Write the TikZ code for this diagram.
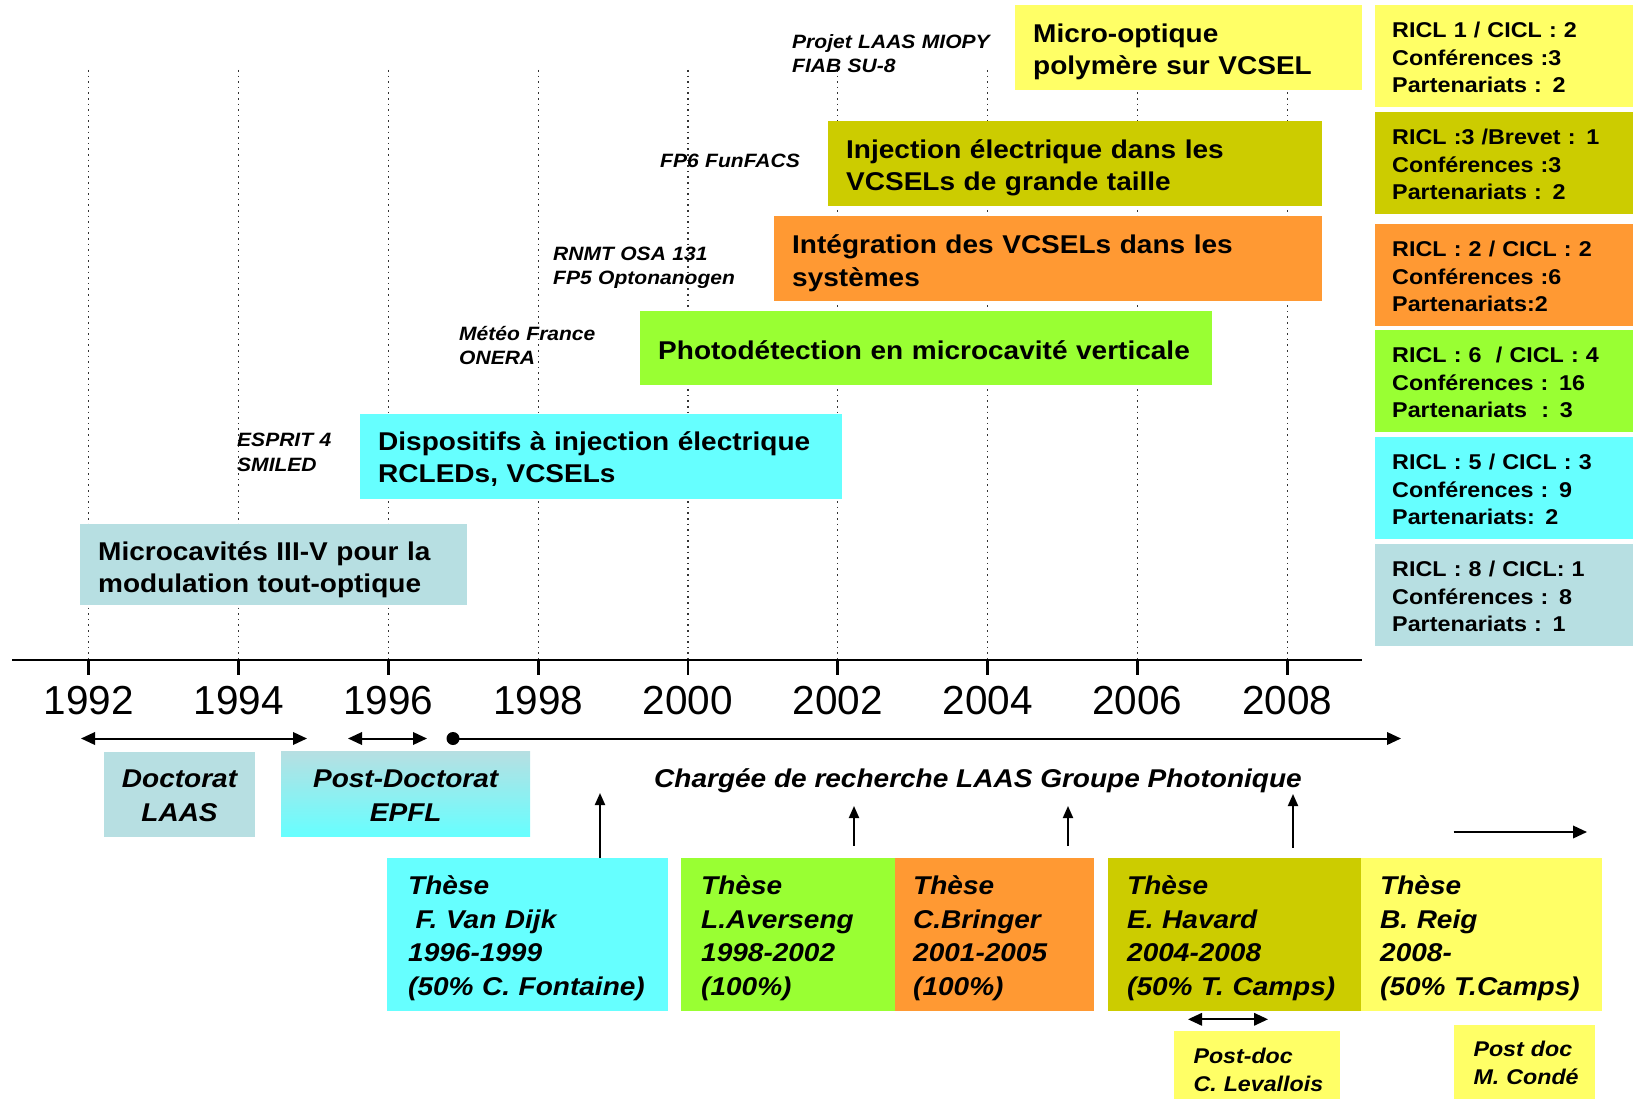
\documentclass[tikz,border=0pt]{standalone}
\usepackage{fontspec}
\setmainfont{Liberation Sans}[BoldFeatures={FakeStretch=1.09},BoldItalicFeatures={FakeStretch=1.09}]
\usetikzlibrary{arrows.meta}
\definecolor{cyel}{HTML}{FFFF66}
\definecolor{coli}{HTML}{CCCC00}
\definecolor{cora}{HTML}{FF9933}
\definecolor{cgre}{HTML}{99FF33}
\definecolor{ccya}{HTML}{66FFFF}
\definecolor{cgry}{HTML}{B7DFE2}
\begin{document}
\begin{tikzpicture}[x=1pt,y=-1pt,
  bigbox/.style={anchor=north west, inner ysep=0pt, inner xsep=18pt, align=left,
    font=\bfseries\fontsize{25.7}{32.5}\selectfont},
  rbox/.style={anchor=north west, inner ysep=0pt, inner xsep=17pt, text width=224pt,
    text height=32.3pt, text depth=69.7pt, align=left,
    font=\bfseries\fontsize{21.4}{27.7}\selectfont},
  tbox/.style={anchor=north west, inner ysep=0pt, align=left, text height=36.7pt, text depth=116.3pt,
    font=\bfseries\itshape\fontsize{25.7}{33.4}\selectfont},
  pbox/.style={anchor=north west, inner ysep=0pt, inner xsep=19.3pt, align=left, fill=cyel,
    font=\bfseries\itshape\fontsize{21.3}{27.7}\selectfont},
  plab/.style={anchor=north west, inner sep=0pt, text width=250pt, align=left, text height=14pt,
    font=\bfseries\itshape\fontsize{19.3}{24.5}\selectfont},
  yrl/.style={inner sep=0pt, font=\fontsize{40.5}{40.5}\selectfont},
  gridl/.style={dash pattern=on 1.6pt off 4pt, line width=1.3pt, black!80},
  arr/.style={line width=2pt, -{Triangle[length=14pt,width=12.5pt]}},
  darr/.style={line width=2pt, {Triangle[length=14pt,width=12.5pt]}-{Triangle[length=14pt,width=12.5pt]}},
  uparr/.style={line width=2pt, -{Triangle[length=12pt,width=10pt]}}
]
\useasboundingbox (0,0) rectangle (1633,1099);

% dotted year lines
\foreach \yr [count=\i from 0] in {1992,1994,...,2008}{
  \pgfmathsetmacro\xx{88.8+149.8*\i}
  \draw[gridl] (\xx,70) -- (\xx,660);
}

% axis
\coordinate (axL) at (12,660);
\coordinate (axR) at (1362,660);
\draw[line width=2.7pt] (axL) -- (axR);
\foreach \yr [count=\i from 0] in {1992,1994,...,2008}{
  \pgfmathsetmacro\xx{88.8+149.8*\i}
  \coordinate (t\yr) at (\xx,660);
  \draw[line width=2.7pt] (t\yr) -- ++(0,15);
  \node[yrl, anchor=base] (y\yr) at (\xx,714) {\yr};
}

% top boxes
\node[bigbox, fill=cyel, text width=311pt, text height=37.3pt, text depth=47.7pt] (micro) at (1015,5)
  {Micro-optique\\\mbox{polymère sur VCSEL}};
\node[bigbox, fill=coli, text width=458pt, text height=37pt, text depth=48pt] (inject) at (828,121)
  {\mbox{Injection électrique dans les}\\\mbox{VCSELs de grande taille}};
\node[bigbox, fill=cora, text width=512pt, text height=37.5pt, text depth=47.5pt] (integ) at (774,216)
  {\mbox{Intégration des VCSELs dans les}\\systèmes};
\node[bigbox, fill=cgre, text width=536pt, text height=48pt, text depth=26pt] (photo) at (640,311)
  {\mbox{Photodétection en microcavité verticale}};
\node[bigbox, fill=ccya, text width=446pt, text height=36pt, text depth=49pt] (dispo) at (360,414)
  {\mbox{Dispositifs à injection électrique}\\\mbox{RCLEDs, VCSELs}};
\node[bigbox, fill=cgry, text width=351pt, text height=36pt, text depth=45pt] (microcav) at (80,524)
  {\mbox{Microcavités III-V pour la}\\\mbox{modulation tout-optique}};

% project labels
\node[plab] (lmiopy) at (792,34) {Projet LAAS MIOPY\\FIAB SU-8};
\node[plab] (lfp6) at (660,153.3) {FP6 FunFACS};
\node[plab] (lrnmt) at (553,246.3) {RNMT OSA 131\\FP5 Optonanogen};
\node[plab] (lmeteo) at (459,326.3) {Météo France\\ONERA};
\node[plab] (lesprit) at (237,432.3) {ESPRIT 4\\SMILED};

% right column
\node[rbox, fill=cyel] (r1) at (1375,5) {\mbox{RICL 1 / CICL : 2}\\\mbox{Conférences :3}\\\mbox{Partenariats : 2}};
\node[rbox, fill=coli] (r2) at (1375,112) {\mbox{RICL :3 /Brevet : 1}\\\mbox{Conférences :3}\\\mbox{Partenariats : 2}};
\node[rbox, fill=cora] (r3) at (1375,224) {\mbox{RICL : 2 / CICL : 2}\\\mbox{Conférences :6}\\\mbox{Partenariats:2}};
\node[rbox, fill=cgre] (r4) at (1375,330) {\mbox{RICL : 6\ \ / CICL : 4}\\\mbox{Conférences : 16}\\\mbox{Partenariats\ \ : 3}};
\node[rbox, fill=ccya] (r5) at (1375,437) {\mbox{RICL : 5 / CICL : 3}\\\mbox{Conférences : 9}\\\mbox{Partenariats: 2}};
\node[rbox, fill=cgry] (r6) at (1375,544) {\mbox{RICL : 8 / CICL: 1}\\\mbox{Conférences : 8}\\\mbox{Partenariats : 1}};

% career arrows
\coordinate (docL) at (81,738.5);
\coordinate (docR) at (307,738.5);
\draw[darr] (docL) -- (docR);
\coordinate (pdL) at (348,738.5);
\coordinate (pdR) at (427,738.5);
\draw[darr] (pdL) -- (pdR);
\node[circle, fill=black, inner sep=0pt, minimum size=13pt] (dot) at (453,738.5) {};
\coordinate (crEnd) at (1401,738.5);
\draw[arr] (dot.center) -- (crEnd);

\node[anchor=north west, fill=cgry, inner sep=0pt, text width=150.7pt, align=center,
  text height=35.3pt, text depth=49.4pt, font=\bfseries\itshape\fontsize{25.7}{33.7}\selectfont]
  (doct) at (104,752) {Doctorat\\LAAS};
\node[anchor=north west, top color=cgry, bottom color=ccya, inner sep=0pt, text width=249pt, align=center,
  text height=36.3pt, text depth=49.4pt, font=\bfseries\itshape\fontsize{25.7}{33.7}\selectfont]
  (postdoct) at (281,751) {Post-Doctorat\\EPFL};
\node[anchor=base west, inner sep=0pt, font=\bfseries\itshape\fontsize{25.7}{30}\selectfont]
  (charge) at (654,787.7) {Chargée de recherche LAAS Groupe Photonique};

% theses
\node[tbox, fill=ccya, inner xsep=21pt, text width=239pt] (vandijk) at (387,858)
  {Thèse\\\mbox{\hspace*{7.5pt}F. Van Dijk}\\1996-1999\\\mbox{(50\% C. Fontaine)}};
\node[tbox, fill=cgre, inner xsep=20pt, text width=174pt] (averseng) at (681,858)
  {Thèse\\L.Averseng\\1998-2002\\(100\%)};
\node[tbox, fill=cora, inner xsep=18pt, text width=162.7pt] (bringer) at (895,858)
  {Thèse\\C.Bringer\\2001-2005\\(100\%)};
\node[tbox, fill=coli, inner xsep=19.3pt, text width=214.4pt] (havard) at (1107.7,858)
  {Thèse\\\mbox{E. Havard}\\2004-2008\\\mbox{(50\% T. Camps)}};
\node[tbox, fill=cyel, inner xsep=19.3pt, text width=202.4pt] (reig) at (1360.7,858)
  {Thèse\\\mbox{B. Reig}\\2008-\\\mbox{(50\% T.Camps)}};

% up arrows
\coordinate (a1t) at (600,793);
\draw[uparr] (vandijk.north -| a1t) -- (a1t);
\coordinate (a2s) at (854,845.7);
\coordinate (a2t) at (854,806);
\draw[uparr] (a2s) -- (a2t);
\coordinate (a3s) at (1068,846);
\coordinate (a3t) at (1068,806);
\draw[uparr] (a3s) -- (a3t);
\coordinate (a4s) at (1293,847.7);
\coordinate (a4t) at (1293,794);
\draw[uparr] (a4s) -- (a4t);
\coordinate (raS) at (1453.5,832);
\coordinate (raE) at (1587,832);
\draw[arr] (raS) -- (raE);

% post-docs
\coordinate (plL) at (1188,1019.3);
\coordinate (plR) at (1268,1019.3);
\draw[darr] (plL) -- (plR);
\node[pbox, text width=126.7pt, text height=32.3pt, text depth=35.7pt] (levallois) at (1174,1031)
  {Post-doc\\\mbox{C. Levallois}};
\node[pbox, text width=102.4pt, text height=31.7pt, text depth=42.3pt] (conde) at (1454,1025)
  {\mbox{Post doc}\\\mbox{M. Condé}};
\end{tikzpicture}
\end{document}
